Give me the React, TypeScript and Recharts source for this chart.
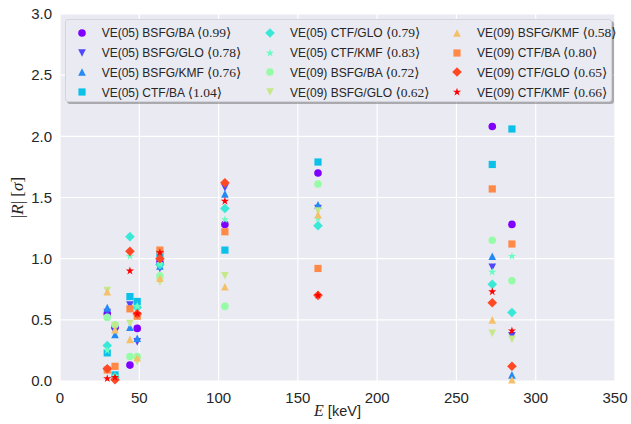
import React from 'react'
import { ScatterChart, Scatter, XAxis, YAxis, CartesianGrid } from 'recharts'

// energies of the measured transitions (keV)
const energies = [29.8, 34.7, 44.1, 48.7, 63.0, 104.0, 162.7, 272.6, 285.0]

// |R| in units of sigma, one value per energy
const ve05BsfgBa = [0.55, 0.44, 0.13, 0.43, 0.97, 1.28, 1.70, 2.08, 1.28]
const ve05BsfgGlo = [0.56, 0.40, 0.62, 0.32, 0.92, 1.58, 1.41, 0.93, 0.37]
const ve05BsfgKmf = [0.60, 0.38, 0.44, 0.35, 0.94, 1.53, 1.44, 1.02, 0.05]
const ve05CtfBa = [0.23, 0.05, 0.69, 0.65, 1.04, 1.07, 1.79, 1.77, 2.06]
const ve05CtfGlo = [0.29, 0.03, 1.18, 0.60, 0.95, 1.41, 1.27, 0.79, 0.56]
const ve05CtfKmf = [0.25, 0.04, 1.02, 0.61, 0.96, 1.32, 1.33, 0.89, 1.02]
const ve09BsfgBa = [0.52, 0.46, 0.20, 0.20, 0.86, 0.61, 1.61, 1.15, 0.82]
const ve09BsfgGlo = [0.74, 0.45, 0.47, 0.16, 0.81, 0.86, 1.39, 0.39, 0.34]
const ve09BsfgKmf = [0.73, 0.42, 0.34, 0.19, 0.84, 0.77, 1.36, 0.50, 0.01]
const ve09CtfBa = [0.09, 0.12, 0.59, 0.53, 1.07, 1.22, 0.92, 1.57, 1.12]
const ve09CtfGlo = [0.10, 0.01, 1.06, 0.55, 1.00, 1.62, 0.70, 0.64, 0.12]
const ve09CtfKmf = [0.02, 0.03, 0.90, 0.55, 1.05, 1.47, 0.70, 0.73, 0.41]

const seriesNames = [
  'VE(05) BSFG/BA', 'VE(05) BSFG/GLO', 'VE(05) BSFG/KMF', 'VE(05) CTF/BA',
  'VE(05) CTF/GLO', 'VE(05) CTF/KMF', 'VE(09) BSFG/BA', 'VE(09) BSFG/GLO',
  'VE(09) BSFG/KMF', 'VE(09) CTF/BA', 'VE(09) CTF/GLO', 'VE(09) CTF/KMF',
]
const meanScores = ['0.99', '0.78', '0.76', '1.04', '0.79', '0.83', '0.72', '0.62', '0.58', '0.80', '0.65', '0.66']
const seriesValues = [
  ve05BsfgBa, ve05BsfgGlo, ve05BsfgKmf, ve05CtfBa, ve05CtfGlo, ve05CtfKmf,
  ve09BsfgBa, ve09BsfgGlo, ve09BsfgKmf, ve09CtfBa, ve09CtfGlo, ve09CtfKmf,
]

const xTicks = [0, 50, 100, 150, 200, 250, 300, 350]
const yTicks = [0, 0.5, 1, 1.5, 2, 2.5, 3]

// rainbow colormap, 12 steps
const colors = ['#8000ff', '#5148fc', '#238af5', '#0cc1e8', '#3ae8d7', '#68fcc1',
  '#97fca7', '#c5e88a', '#f3c16a', '#ff8a48', '#ff4824', '#ff0000']
const markers = ['o', 'v', '^', 's', 'D', '*', 'o', 'v', '^', 's', 'D', '*']

const SANS = '"Liberation Sans", Arial, sans-serif'
const SERIF = '"Liberation Serif", "DejaVu Serif", serif'
const INK = '#262626'

const Marker = ({ cx, cy, kind, color }: any) => {
  if (cx == null || cy == null) return null
  const r = 3.8
  switch (kind) {
    case 'o':
      return <circle cx={cx} cy={cy} r={r} fill={color} />
    case 's':
      return <rect x={cx - 3.6} y={cy - 3.6} width={7.2} height={7.2} fill={color} />
    case 'D':
      return <polygon points={`${cx},${cy - 4.8} ${cx + 4.8},${cy} ${cx},${cy + 4.8} ${cx - 4.8},${cy}`} fill={color} />
    case '^':
      return <polygon points={`${cx},${cy - r} ${cx + r},${cy + r} ${cx - r},${cy + r}`} fill={color} />
    case 'v':
      return <polygon points={`${cx},${cy + r} ${cx + r},${cy - r} ${cx - r},${cy - r}`} fill={color} />
    case '*': {
      const pts: string[] = []
      for (let k = 0; k < 10; k++) {
        const rad = k % 2 === 0 ? 4.3 : 4.3 * 0.382
        const a = -Math.PI / 2 + (k * Math.PI) / 5
        pts.push(`${cx + rad * Math.cos(a)},${cy + rad * Math.sin(a)}`)
      }
      return <polygon points={pts.join(' ')} fill={color} />
    }
    default:
      return null
  }
}

const XLabel = (props: any) => {
  const vb = props.viewBox || { x: 60, width: 555 }
  return (
    <text x={vb.x + vb.width / 2} y={416} textAnchor="middle" fill={INK} fontSize={14.5} fontFamily={SANS}>
      <tspan fontFamily={SERIF} fontStyle="italic" fontSize={16}>E</tspan>
      <tspan> [keV]</tspan>
    </text>
  )
}

const YLabel = (props: any) => {
  const vb = props.viewBox || { y: 14, height: 367 }
  const cy = vb.y + vb.height / 2
  return (
    <text x={23} y={cy} transform={`rotate(-90, 23, ${cy})`} textAnchor="middle" fill={INK} fontSize={17} fontFamily={SERIF}>
      <tspan>|</tspan>
      <tspan fontStyle="italic">R</tspan>
      <tspan>| [</tspan>
      <tspan fontStyle="italic">σ</tspan>
      <tspan>]</tspan>
    </text>
  )
}

const legendCols = [15.7, 204, 391]
const legendRows = [12.7, 32.5, 52.3, 72.2]

const LegendBox = () => (
  <div
    style={{
      position: 'absolute', left: 65, top: 19, width: 547, height: 83,
      background: '#EAEAF2', border: '1px solid #d4d4dc', borderRadius: 3,
      boxShadow: '2px 2px 0 rgba(0,0,0,0.28)', boxSizing: 'border-box',
    }}
  >
    {seriesNames.map((name, i) => {
      const col = Math.floor(i / 4)
      const row = i % 4
      return (
        <div key={name} style={{ position: 'absolute', left: legendCols[col] - 6, top: legendRows[row] - 10, height: 20, display: 'flex', alignItems: 'center', whiteSpace: 'nowrap' }}>
          <svg width={12} height={12} style={{ display: 'block' }}>
            <Marker cx={6} cy={6} kind={markers[i]} color={colors[i]} />
          </svg>
          <span style={{ marginLeft: 14, fontFamily: SANS, fontSize: 12, color: INK }}>
            {name}{' '}
            <span style={{ fontFamily: SERIF, fontSize: 13.5 }}>⟨{meanScores[i]}⟩</span>
          </span>
        </div>
      )
    })}
  </div>
)

export default function App() {
  return (
    <div style={{ position: 'absolute', left: 0, top: 0, width: 631, height: 424, background: '#ffffff' }}>
      <ScatterChart width={631} height={424} margin={{ top: 14, right: 16, bottom: 0, left: 0 }}>
        <CartesianGrid fill="#EAEAF2" stroke="#ffffff" strokeWidth={1.2} />
        <XAxis
          type="number"
          dataKey="x"
          domain={[0, 350]}
          ticks={xTicks}
          axisLine={false}
          tickLine={false}
          tickMargin={5}
          height={43}
          tick={{ fill: INK, fontSize: 15, fontFamily: SANS }}
          label={XLabel}
        />
        <YAxis
          type="number"
          dataKey="y"
          domain={[0, 3]}
          ticks={yTicks}
          tickFormatter={(v: number) => v.toFixed(1)}
          axisLine={false}
          tickLine={false}
          width={60}
          tick={{ fill: INK, fontSize: 15, fontFamily: SANS }}
          label={YLabel}
        />
        {seriesValues.map((vals, i) => (
          <Scatter
            key={seriesNames[i]}
            name={seriesNames[i]}
            data={energies.map((e, k) => ({ x: e, y: vals[k] }))}
            isAnimationActive={false}
            shape={(p: any) => <Marker cx={p.cx} cy={p.cy} kind={markers[i]} color={colors[i]} />}
          />
        ))}
      </ScatterChart>
      <LegendBox />
    </div>
  )
}
